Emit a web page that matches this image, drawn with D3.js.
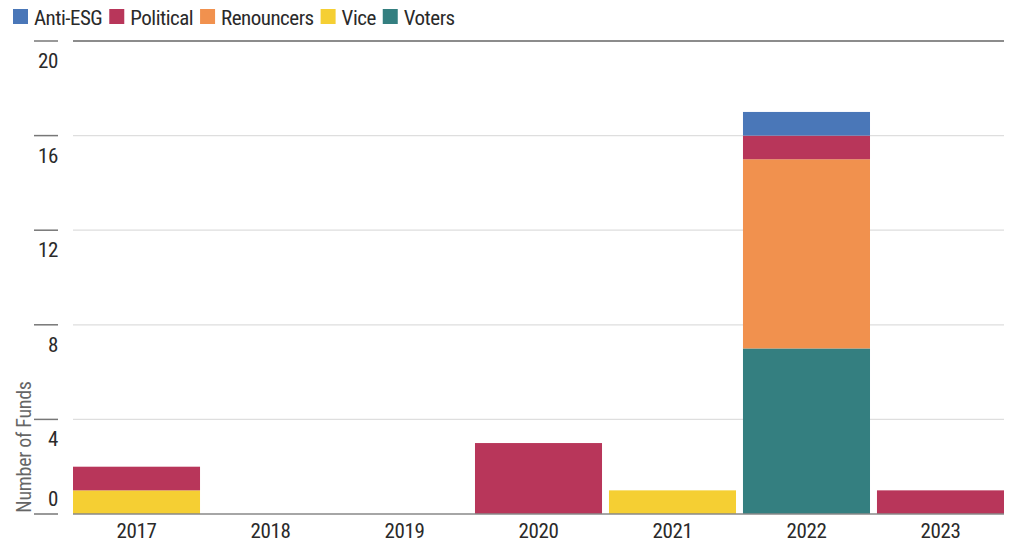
<!DOCTYPE html>
<html>
<head>
<meta charset="utf-8">
<script src="https://cdn.jsdelivr.net/npm/d3@7"></script>
<style>
  html, body { margin: 0; padding: 0; background: #fff; }
  svg text { font-family: "Liberation Sans Narrow", "Roboto Condensed", "Arial Narrow", sans-serif; fill: #2a2a2a; }
</style>
</head>
<body>
<svg id="chart" width="1014" height="544"></svg>
<script>
// Fund launches by year, split by type
const years = ["2017", "2018", "2019", "2020", "2021", "2022", "2023"];
const seriesNames = ["Voters", "Vice", "Renouncers", "Political", "Anti-ESG"];
const voters     = [0, 0, 0, 0, 0, 7, 0];
const vice       = [1, 0, 0, 0, 1, 0, 0];
const renouncers = [0, 0, 0, 0, 0, 8, 0];
const political  = [1, 0, 0, 3, 0, 1, 1];
const antiEsg    = [0, 0, 0, 0, 0, 1, 0];
const yTicks = [0, 4, 8, 12, 16, 20];
const legendOrder = ["Anti-ESG", "Political", "Renouncers", "Vice", "Voters"];
const colors = {
  "Anti-ESG": "#4a77b8",
  "Political": "#b8365a",
  "Renouncers": "#f1914e",
  "Vice": "#f5cf33",
  "Voters": "#347f80"
};

const valuesBySeries = {
  "Voters": voters, "Vice": vice, "Renouncers": renouncers,
  "Political": political, "Anti-ESG": antiEsg
};
const rows = years.map((y, i) => {
  const r = { year: y };
  seriesNames.forEach(s => r[s] = valuesBySeries[s][i]);
  return r;
});

const svg = d3.select("#chart");
const plotLeft = 73, plotRight = 1004, plotTop = 41, plotBottom = 514;

const x = d3.scaleBand().domain(years).range([plotLeft, plotRight]).paddingInner(0.052).paddingOuter(0);
const y = d3.scaleLinear().domain([0, 20]).range([plotBottom, plotTop]);

// gridlines
svg.append("g").selectAll("line").data(yTicks.filter(t => t > 0)).join("line")
  .attr("x1", plotLeft).attr("x2", plotRight)
  .attr("y1", d => y(d)).attr("y2", d => y(d))
  .attr("stroke", d => d === 20 ? "#666" : "#dedede")
  .attr("stroke-width", 1.3);

// tick dashes and labels on the left
const tickG = svg.append("g");
tickG.selectAll("line").data(yTicks).join("line")
  .attr("x1", 34).attr("x2", 58)
  .attr("y1", d => y(d)).attr("y2", d => y(d))
  .attr("stroke", "#777").attr("stroke-width", 1.5);
tickG.selectAll("text").data(yTicks).join("text")
  .attr("x", 58)
  .attr("y", d => d === 0 ? y(d) - 8 : y(d) + 27)
  .attr("text-anchor", "end")
  .attr("font-size", 21)
  .attr("letter-spacing", -0.4)
  .text(d => d);

// stacked bars
const stack = d3.stack().keys(seriesNames);
const layers = stack(rows);
svg.append("g").selectAll("g").data(layers).join("g")
  .attr("fill", d => colors[d.key])
  .selectAll("rect").data(d => d.filter(p => p[1] > p[0])).join("rect")
  .attr("x", d => x(d.data.year))
  .attr("width", x.bandwidth())
  .attr("y", d => y(d[1]))
  .attr("height", d => y(d[0]) - y(d[1]));

// baseline
svg.append("line")
  .attr("x1", plotLeft).attr("x2", plotRight)
  .attr("y1", plotBottom).attr("y2", plotBottom)
  .attr("stroke", "#888").attr("stroke-width", 1.5);

// x axis labels
svg.append("g").selectAll("text").data(years).join("text")
  .attr("x", d => x(d) + x.bandwidth() / 2)
  .attr("y", 538)
  .attr("text-anchor", "middle")
  .attr("font-size", 21)
  .attr("letter-spacing", -0.4)
  .text(d => d);

// y axis title
svg.append("text")
  .attr("transform", "translate(31,447) rotate(-90)")
  .attr("text-anchor", "middle")
  .attr("font-size", 20)
  .attr("letter-spacing", -0.3)
  .style("fill", "#666")
  .text("Number of Funds");

// legend
const legend = svg.append("g");
let lx = 13;
legendOrder.forEach(name => {
  legend.append("rect")
    .attr("x", lx).attr("y", 9).attr("width", 15).attr("height", 15)
    .attr("fill", colors[name]);
  const t = legend.append("text")
    .attr("x", lx + 21).attr("y", 25)
    .attr("font-size", 21)
    .attr("letter-spacing", -0.5)
    .text(name);
  lx += 21 + t.node().getComputedTextLength() + 7;
});
</script>
</body>
</html>
